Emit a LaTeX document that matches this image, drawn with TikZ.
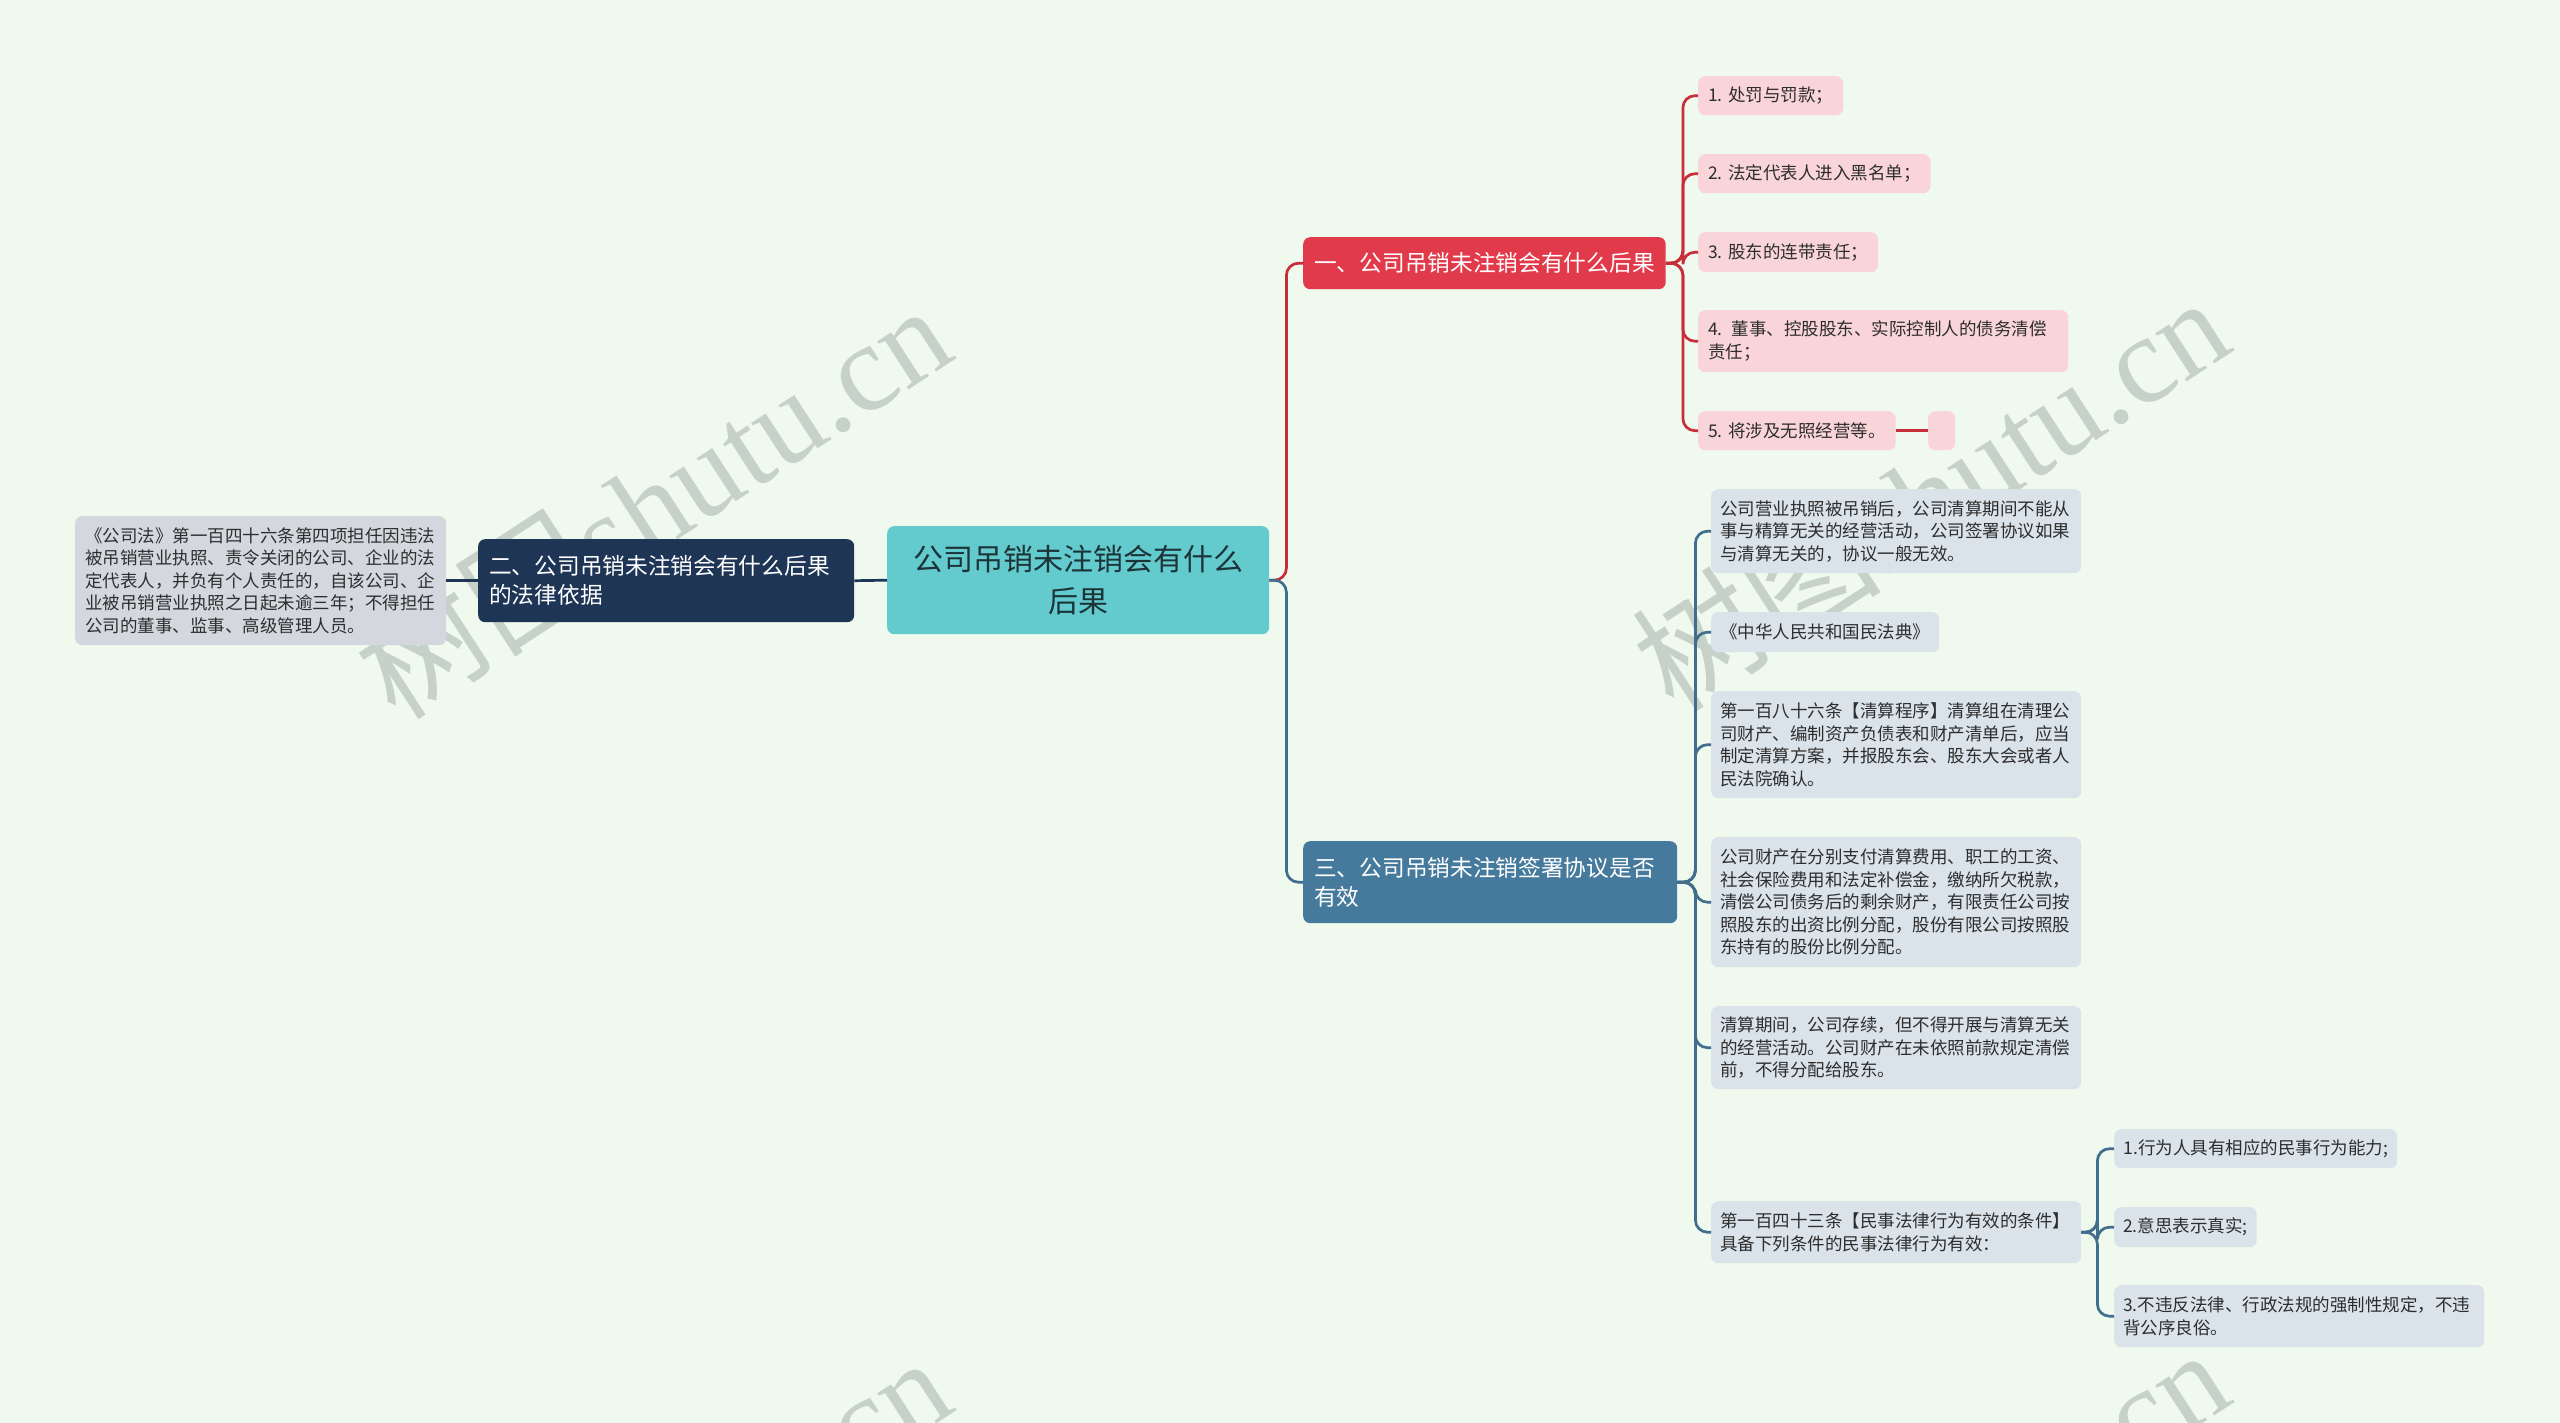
\documentclass[tikz,border=0pt]{standalone}
\usepackage{fontspec}
\setmainfont{Noto Sans CJK SC}
\newfontfamily\wmlatin{Liberation Serif}
\definecolor{bg}{RGB}{240,249,238}
\definecolor{wm}{RGB}{198,209,201}
\definecolor{rootfill}{RGB}{99,202,205}
\definecolor{roottext}{RGB}{28,52,56}
\definecolor{navy}{RGB}{30,53,86}
\definecolor{redfill}{RGB}{225,58,75}
\definecolor{redline}{RGB}{200,46,58}
\definecolor{pinkfill}{RGB}{249,213,218}
\definecolor{bluefill}{RGB}{69,122,156}
\definecolor{blueline}{RGB}{64,110,140}
\definecolor{leafblue}{RGB}{218,227,234}
\definecolor{leafgrey}{RGB}{212,216,222}
\definecolor{leaftext}{RGB}{45,45,45}
\tikzset{
  bx/.style={rounded corners=7pt, anchor=north west, inner ysep=0pt, align=left},
  leafp/.style={bx, fill=pinkfill, text=leaftext, inner xsep=10pt, font=\fontsize{17.5}{22.5}\selectfont},
  leafb/.style={bx, fill=leafblue, text=leaftext, inner xsep=9pt, font=\fontsize{17.5}{22.5}\selectfont},
  leafg/.style={bx, fill=leafgrey, text=leaftext, inner xsep=10pt, font=\fontsize{17.5}{22.5}\selectfont},
  head/.style={bx, text=white, inner xsep=11pt, font=\fontsize{22.7}{29}\selectfont},
  rootbox/.style={bx, fill=rootfill, text=roottext, inner xsep=10pt, align=center, font=\fontsize{30}{42}\selectfont},
  navyl/.style={draw=navy, line width=2.7pt},
  redl/.style={draw=redline, line width=2.7pt, rounded corners=12pt},
  bluel/.style={draw=blueline, line width=2.7pt, rounded corners=12pt},
  wmark/.style={text=wm, rotate=33, font=\fontsize{125}{125}\selectfont}
}
\begin{document}
\begin{tikzpicture}[x=1pt,y=-1pt]
\useasboundingbox (0,0) rectangle (2560,1423);
\fill[bg] (0,0) rectangle (2560,1423);
% watermarks
\node[wmark] (wm1) at (652,500) {树图{\wmlatin shutu.cn}};
\node[wmark] (wm2) at (1930,492) {树图{\wmlatin shutu.cn}};
\node[wmark] (wm3) at (652,1552) {树图{\wmlatin shutu.cn}};
\node[wmark] (wm4) at (1930,1544) {树图{\wmlatin shutu.cn}};
% root
\node[rootbox, minimum width=382pt, minimum height=108pt, text width=362pt] (root) at (887,526) {公司吊销未注销会有什么\\后果};
% left branch
\node[head, fill=navy, minimum width=376pt, minimum height=83pt, text width=354pt] (two) at (478,539) {二、公司吊销未注销会有什么后果\\的法律依据};
\node[leafg, minimum width=371pt, minimum height=129pt, text width=351pt] (lb) at (75,516) {《公司法》第一百四十六条第四项担任因违法\\被吊销营业执照、责令关闭的公司、企业的法\\定代表人，并负有个人责任的，自该公司、企\\业被吊销营业执照之日起未逾三年；不得担任\\公司的董事、监事、高级管理人员。};
% red branch
\node[head, fill=redfill, minimum width=362pt, minimum height=52pt] (one) at (1303,237) {一、公司吊销未注销会有什么后果};
\node[leafp, minimum width=143pt, minimum height=39pt] (l1) at (1698,76) {1. 处罚与罚款；};
\node[leafp, minimum width=231pt, minimum height=39pt] (l2) at (1698,154) {2. 法定代表人进入黑名单；};
\node[leafp, minimum width=179pt, minimum height=40pt] (l3) at (1698,232) {3. 股东的连带责任；};
\node[leafp, minimum width=370pt, minimum height=62pt, text width=350pt] (l4) at (1698,310) {4. 董事、控股股东、实际控制人的债务清偿\\责任；};
\node[leafp, minimum width=196pt, minimum height=39pt] (l5) at (1698,411) {5. 将涉及无照经营等。};
\node[leafp, minimum width=27pt, minimum height=39pt, inner xsep=0pt] (emp) at (1928,411) {};
% blue branch
\node[head, fill=bluefill, minimum width=374pt, minimum height=82pt, text width=352pt] (three) at (1303,841) {三、公司吊销未注销签署协议是否\\有效};
\node[leafb, minimum width=370pt, minimum height=84pt, text width=352pt] (ba) at (1711,489) {公司营业执照被吊销后，公司清算期间不能从\\事与精算无关的经营活动，公司签署协议如果\\与清算无关的，协议一般无效。};
\node[leafb, minimum width=228pt, minimum height=40pt] (bb) at (1711,612) {《中华人民共和国民法典》};
\node[leafb, minimum width=370pt, minimum height=107pt, text width=352pt] (bc) at (1711,691) {第一百八十六条【清算程序】清算组在清理公\\司财产、编制资产负债表和财产清单后，应当\\制定清算方案，并报股东会、股东大会或者人\\民法院确认。};
\node[leafb, minimum width=370pt, minimum height=130pt, text width=352pt] (bd) at (1711,837) {公司财产在分别支付清算费用、职工的工资、\\社会保险费用和法定补偿金，缴纳所欠税款，\\清偿公司债务后的剩余财产，有限责任公司按\\照股东的出资比例分配，股份有限公司按照股\\东持有的股份比例分配。};
\node[leafb, minimum width=370pt, minimum height=83pt, text width=352pt] (be) at (1711,1006) {清算期间，公司存续，但不得开展与清算无关\\的经营活动。公司财产在未依照前款规定清偿\\前，不得分配给股东。};
\node[leafb, minimum width=370pt, minimum height=62pt, text width=352pt] (bf) at (1711,1201) {第一百四十三条【民事法律行为有效的条件】\\具备下列条件的民事法律行为有效：};
\node[leafb, minimum width=283pt, minimum height=39pt] (g1) at (2114,1129) {1.行为人具有相应的民事行为能力;};
\node[leafb, minimum width=142pt, minimum height=40pt] (g2) at (2114,1207) {2.意思表示真实;};
\node[leafb, minimum width=370pt, minimum height=62pt, text width=352pt] (g3) at (2114,1285) {3.不违反法律、行政法规的强制性规定，不违\\背公序良俗。};
% connectors
\draw[navyl] (lb.east) -- (two.west);
\draw[navyl] (two.east) -- (root.west);
\draw[redl] (root.east) -- ++(17,0) |- (one.west);
\draw[bluel] (root.east) -- ++(17,0) |- (three.west);
\foreach \n in {l1,l2,l3,l4,l5} \draw[redl] (one.east) -- ++(17,0) |- (\n.west);
\draw[redl] (l5.east) -- (emp.west);
\foreach \n in {ba,bb,bc,bd,be,bf} \draw[bluel] (three.east) -- ++(18,0) |- (\n.west);
\foreach \n in {g1,g2,g3} \draw[bluel] (bf.east) -- ++(16,0) |- (\n.west);
\end{tikzpicture}
\end{document}
